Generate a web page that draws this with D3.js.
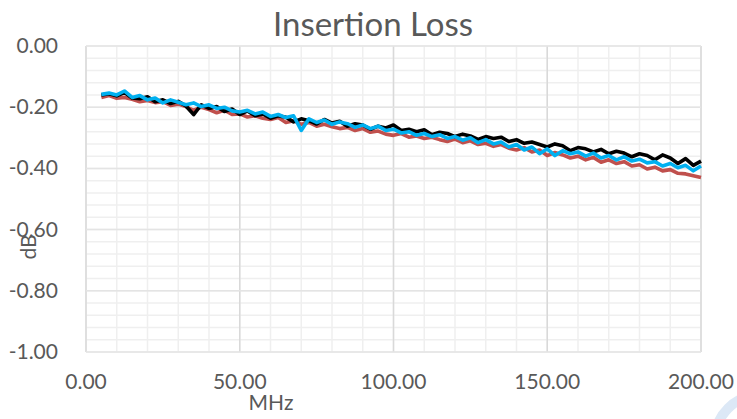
<!DOCTYPE html>
<html>
<head>
<meta charset="utf-8">
<script src="https://cdn.jsdelivr.net/npm/d3@7"></script>
<style>
  body { margin: 0; background: #fff; }
  text { font-family: Lato, "Open Sans", sans-serif; fill: #595959; }
</style>
</head>
<body>
<svg id="chart" width="737" height="419"></svg>
<script>
// frequency (MHz)
var freq = d3.range(5, 200.1, 2.5);

var lossBlack = [-0.160,-0.156,-0.163,-0.152,-0.170,-0.172,-0.166,-0.182,-0.176,-0.188,
  -0.181,-0.196,-0.224,-0.192,-0.204,-0.198,-0.214,-0.206,-0.224,-0.212,
  -0.228,-0.222,-0.236,-0.228,-0.233,-0.248,-0.238,-0.244,-0.255,-0.240,
  -0.252,-0.246,-0.262,-0.254,-0.258,-0.272,-0.262,-0.268,-0.258,-0.276,
  -0.272,-0.280,-0.274,-0.290,-0.282,-0.286,-0.296,-0.288,-0.294,-0.305,
  -0.296,-0.302,-0.298,-0.312,-0.306,-0.318,-0.314,-0.322,-0.330,-0.320,
  -0.326,-0.342,-0.332,-0.336,-0.346,-0.338,-0.352,-0.344,-0.350,-0.362,
  -0.352,-0.358,-0.372,-0.356,-0.366,-0.384,-0.368,-0.390,-0.376];

var lossRed = [-0.168,-0.162,-0.171,-0.168,-0.174,-0.182,-0.178,-0.185,-0.182,-0.194,
  -0.190,-0.198,-0.210,-0.200,-0.208,-0.218,-0.210,-0.224,-0.222,-0.232,
  -0.228,-0.236,-0.240,-0.234,-0.250,-0.244,-0.256,-0.250,-0.262,-0.256,
  -0.264,-0.270,-0.266,-0.276,-0.270,-0.282,-0.278,-0.288,-0.292,-0.286,
  -0.298,-0.294,-0.302,-0.298,-0.306,-0.312,-0.304,-0.316,-0.310,-0.322,
  -0.318,-0.328,-0.322,-0.334,-0.340,-0.332,-0.346,-0.340,-0.358,-0.348,
  -0.356,-0.366,-0.360,-0.372,-0.364,-0.380,-0.372,-0.384,-0.378,-0.392,
  -0.388,-0.402,-0.396,-0.408,-0.404,-0.416,-0.418,-0.424,-0.430];

var lossBlue = [-0.158,-0.154,-0.160,-0.147,-0.168,-0.162,-0.176,-0.170,-0.186,-0.176,
  -0.184,-0.192,-0.186,-0.198,-0.192,-0.204,-0.200,-0.212,-0.216,-0.210,
  -0.222,-0.216,-0.230,-0.224,-0.234,-0.228,-0.276,-0.238,-0.250,-0.242,
  -0.256,-0.248,-0.254,-0.266,-0.258,-0.270,-0.262,-0.276,-0.272,-0.284,
  -0.280,-0.292,-0.286,-0.296,-0.290,-0.302,-0.296,-0.308,-0.300,-0.316,
  -0.306,-0.320,-0.314,-0.330,-0.322,-0.340,-0.330,-0.352,-0.336,-0.358,
  -0.342,-0.352,-0.346,-0.360,-0.350,-0.366,-0.358,-0.372,-0.362,-0.376,
  -0.370,-0.382,-0.378,-0.392,-0.384,-0.398,-0.390,-0.408,-0.392];

var xTicks = [0, 50, 100, 150, 200];
var yTicks = [0, -0.2, -0.4, -0.6, -0.8, -1.0];

var svg = d3.select("#chart");
var plotL = 86, plotR = 701, plotT = 46, plotB = 352;

var x = d3.scaleLinear().domain([0, 200]).range([plotL, plotR]);
var y = d3.scaleLinear().domain([-1, 0]).range([plotB, plotT]);

var grid = svg.append("g");
// minor grid
grid.selectAll(".vminor").data(d3.range(0, 201, 10)).enter().append("line")
  .attr("x1", d => x(d)).attr("x2", d => x(d)).attr("y1", plotT).attr("y2", plotB)
  .attr("stroke", "#efefef").attr("stroke-width", 1.5);
grid.selectAll(".hminor").data(d3.range(0, 26).map(i => -i * 0.04)).enter().append("line")
  .attr("x1", plotL).attr("x2", plotR).attr("y1", d => y(d)).attr("y2", d => y(d))
  .attr("stroke", "#efefef").attr("stroke-width", 1.5);
// major grid
grid.selectAll(".vmajor").data(xTicks).enter().append("line")
  .attr("x1", d => x(d)).attr("x2", d => x(d)).attr("y1", plotT).attr("y2", plotB)
  .attr("stroke", "#d9d9d9").attr("stroke-width", 1.5);
grid.selectAll(".hmajor").data(yTicks).enter().append("line")
  .attr("x1", plotL).attr("x2", plotR).attr("y1", d => y(d)).attr("y2", d => y(d))
  .attr("stroke", "#e4e4e4").attr("stroke-width", 1.5);

// tick labels (plain hyphen, as in the original)
svg.selectAll(".ylab").data(yTicks).enter().append("text")
  .attr("x", 58).attr("y", d => y(d) + 7)
  .attr("text-anchor", "end").attr("font-size", 21)
  .text(d => (d === 0 ? 0 : d).toFixed(2));
svg.selectAll(".xlab").data(xTicks).enter().append("text")
  .attr("x", d => x(d)).attr("y", 389)
  .attr("text-anchor", "middle").attr("font-size", 21)
  .text(d => d.toFixed(2));

// series
var line = d3.line().x((d, i) => x(freq[i])).y(d => y(d));
[[lossRed, "#c0504d"], [lossBlack, "#000000"], [lossBlue, "#00b0f0"]].forEach(function(s) {
  svg.append("path").datum(s[0])
    .attr("d", line)
    .attr("fill", "none")
    .attr("stroke", s[1])
    .attr("stroke-width", 3.6)
    .attr("stroke-linejoin", "round");
});

// titles
svg.append("text").attr("x", 373).attr("y", 36)
  .attr("text-anchor", "middle").attr("font-size", 33)
  .text("Insertion Loss");
svg.append("text").attr("x", 271).attr("y", 410)
  .attr("text-anchor", "middle").attr("font-size", 21)
  .text("MHz");
svg.append("text").attr("transform", "translate(36,247) rotate(-90)")
  .attr("text-anchor", "middle").attr("font-size", 21)
  .text("dB");

// faint watermark corner
svg.append("circle").attr("cx", 760).attr("cy", 440).attr("r", 45)
  .attr("fill", "none").attr("stroke", "#dce8f6").attr("stroke-width", 10);
</script>
</body>
</html>
